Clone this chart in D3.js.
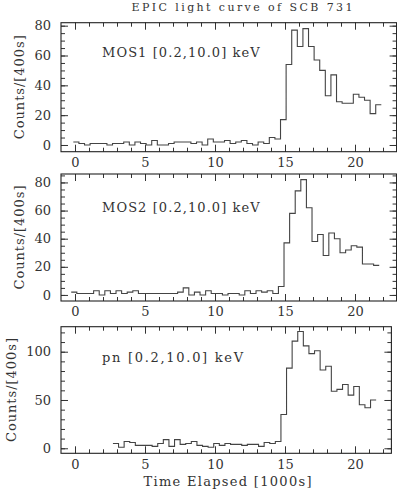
<!DOCTYPE html>
<html>
<head>
<meta charset="utf-8">
<script src="https://cdn.jsdelivr.net/npm/d3@7"></script>
<style>
  body { margin: 0; background: #fff; }
  svg { display: block; }
  text { font-family: "DejaVu Serif", serif; fill: #333; }
</style>
</head>
<body>
<script>
// light curves, 400 s bins, time in units of 1000 s
const binWidth = 0.4;
const title = "EPIC light curve of SCB 731";
const xTitle = "Time Elapsed [1000s]";
const yTitle = "Counts/[400s]";
const xTicks = [0, 5, 10, 15, 20];

const mos1Start = -0.12;
const mos1Counts = [2, 1, 0, 1, 1, 1, 0, 1, 1, 2, 0, 2, 1, 0, 3, 0, 0, 1, 2, 2,
    2, 1, 2, 0, 4, 2, 2, 3, 1, 2, 3, 1, 0, 2, 1, 5, 4, 17, 54, 77,
    66, 78, 66, 57, 50, 33, 47, 29, 28, 28, 34, 32, 30, 21, 27];
const mos1YTicks = [0, 20, 40, 60, 80];

const mos2Start = -0.27;
const mos2Counts = [2, 1, 1, 1, 3, 0, 3, 1, 3, 1, 2, 3, 1, 1, 1, 1, 1, 1, 1, 2,
    5, 0, 2, 0, 3, 1, 1, 0, 1, 1, 0, 3, 1, 3, 2, 3, 1, 6, 37, 58,
    74, 82, 62, 38, 43, 28, 44, 40, 30, 32, 35, 34, 22, 22, 21];
const mos2YTicks = [0, 20, 40, 60, 80];

const pnStart = 2.71;
const pnCounts = [5, 1, 7, 6, 3, 3, 3, 2, 5, 9, 2, 9, 4, 5, 7, 3, 2, 1, 5, 3,
    5, 4, 4, 3, 4, 4, 2, 6, 5, 7, 35, 83, 111, 121, 106, 98, 101, 81, 85, 59,
    61, 66, 55, 64, 45, 42, 50];
const pnYTicks = [0, 50, 100];

let width = 397;
let height = 492;

let panels = [
    { label: "MOS1 [0.2,10.0] keV", start: mos1Start, counts: mos1Counts, yTicks: mos1YTicks, yMinor: 5,
      yDomain: [-4.5, 82], top: 22.7, bottom: 151.7, xMax: 22.97, labelY: 56.5, titleX: 24 },
    { label: "MOS2 [0.2,10.0] keV", start: mos2Start, counts: mos2Counts, yTicks: mos2YTicks, yMinor: 5,
      yDomain: [-4.3, 86], top: 174, bottom: 301, xMax: 22.97, labelY: 211.5, titleX: 24 },
    { label: "pn [0.2,10.0] keV", start: pnStart, counts: pnCounts, yTicks: pnYTicks, yMinor: 10,
      yDomain: [-5.2, 125.9], top: 326.7, bottom: 453.3, xMax: 22.6, labelY: 361.5, titleX: 16 }
];

let svg = d3.select("body").append("svg")
    .attr("width", width)
    .attr("height", height);

svg.append("text")
    .attr("x", 242)
    .attr("y", 10.5)
    .attr("text-anchor", "middle")
    .attr("textLength", 221)
    .attr("lengthAdjust", "spacing")
    .style("font-size", "11px")
    .text(title);

panels.forEach((p) => {
    let x = d3.scaleLinear().domain([-1, p.xMax]).range([61, 61 + 14 * (p.xMax + 1)]);
    let y = d3.scaleLinear().domain(p.yDomain).range([p.bottom, p.top]);
    let g = svg.append("g");

    const addAxis = function (axis, tx, ty) {
        let a = g.append("g")
            .attr("transform", `translate(${tx},${ty})`)
            .call(axis)
            .attr("font-family", null)
            .attr("font-size", null);
        a.select(".domain").remove();
        a.selectAll("line").attr("stroke", "#333").attr("stroke-width", 1);
        return a;
    };

    let xMinor = d3.range(0, p.xMax, 1);
    let yMinor = d3.range(0, p.yDomain[1], p.yMinor);

    // minor ticks on all four sides
    addAxis(d3.axisBottom(x).tickValues(xMinor).tickSize(-4).tickFormat(""), 0, p.bottom);
    addAxis(d3.axisTop(x).tickValues(xMinor).tickSize(-4).tickFormat(""), 0, p.top);
    addAxis(d3.axisLeft(y).tickValues(yMinor).tickSize(-4).tickFormat(""), x.range()[0], 0);
    addAxis(d3.axisRight(y).tickValues(yMinor).tickSize(-4).tickFormat(""), x.range()[1], 0);

    // major ticks + labels
    let xb = addAxis(d3.axisBottom(x).tickValues(xTicks).tickSize(-7).tickPadding(6), 0, p.bottom);
    xb.selectAll("text").style("font-size", "13px");
    addAxis(d3.axisTop(x).tickValues(xTicks).tickSize(-7).tickFormat(""), 0, p.top);
    let yl = addAxis(d3.axisLeft(y).tickValues(p.yTicks).tickSize(-7).tickPadding(10), x.range()[0], 0);
    yl.selectAll("text").style("font-size", "13px");
    addAxis(d3.axisRight(y).tickValues(p.yTicks).tickSize(-7).tickFormat(""), x.range()[1], 0);

    // frame
    g.append("rect")
        .attr("x", x.range()[0])
        .attr("y", p.top)
        .attr("width", x.range()[1] - x.range()[0])
        .attr("height", p.bottom - p.top)
        .attr("fill", "none")
        .attr("stroke", "#222")
        .attr("stroke-width", 1.1);

    // histogram steps
    let pts = p.counts.map((c, i) => [p.start + i * binWidth, c]);
    pts.push([p.start + p.counts.length * binWidth, p.counts[p.counts.length - 1]]);
    let line = d3.line()
        .x(d => x(d[0]))
        .y(d => y(d[1]))
        .curve(d3.curveStepAfter);
    g.append("path")
        .attr("d", line(pts))
        .attr("fill", "none")
        .attr("stroke", "#444")
        .attr("stroke-width", 1.1);

    g.append("text")
        .attr("x", 102)
        .attr("y", p.labelY)
        .attr("textLength", p.label.length * 8.3)
        .attr("lengthAdjust", "spacing")
        .style("font-size", "13px")
        .text(p.label);

    g.append("text")
        .attr("transform", `translate(${p.titleX},${(p.top + p.bottom) / 2}) rotate(-90)`)
        .attr("text-anchor", "middle")
        .attr("textLength", 104)
        .attr("lengthAdjust", "spacing")
        .style("font-size", "13px")
        .text(yTitle);
});

svg.append("text")
    .attr("x", 227.5)
    .attr("y", 486)
    .attr("text-anchor", "middle")
    .attr("textLength", 168)
    .attr("lengthAdjust", "spacing")
    .style("font-size", "13px")
    .text(xTitle);
</script>
</body>
</html>
